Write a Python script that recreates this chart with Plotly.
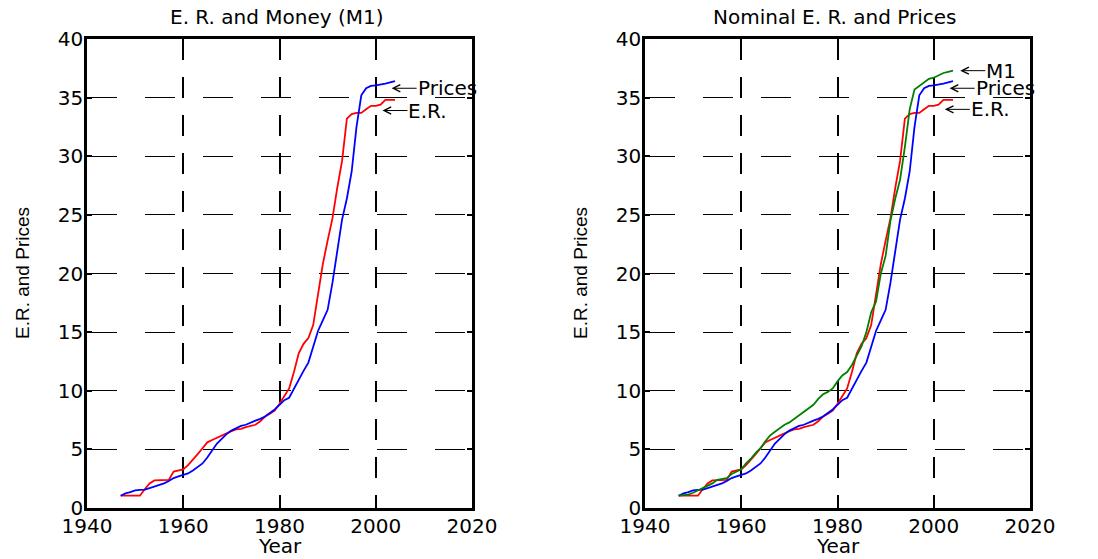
import plotly.graph_objects as go

years = [1947, 1948, 1949, 1950, 1951, 1952, 1953, 1954, 1955, 1956,
         1957, 1958, 1959, 1960, 1961, 1962, 1963, 1964, 1965, 1966,
         1967, 1968, 1969, 1970, 1971, 1972, 1973, 1974, 1975, 1976,
         1977, 1978, 1979, 1980, 1981, 1982, 1983, 1984, 1985, 1986,
         1987, 1988, 1989, 1990, 1991, 1992, 1993, 1994, 1995, 1996,
         1997, 1998, 1999, 2000, 2001, 2002, 2003, 2004]

exchange_rate = [1.05, 1.05, 1.05, 1.05, 1.05, 1.6, 2.1, 2.35, 2.35, 2.35,
                 2.4, 3.1, 3.2, 3.3, 3.65, 4.1, 4.6, 5.1, 5.6, 5.8,
                 6.0, 6.2, 6.35, 6.55, 6.7, 6.75, 6.9, 7.0, 7.1, 7.4,
                 7.8, 8.05, 8.3, 8.9, 9.6, 10.2, 11.6, 13.2, 14.0, 14.5,
                 15.6, 18.2, 20.8, 22.8, 24.7, 27.3, 29.6, 33.2, 33.6, 33.7,
                 33.7, 34.0, 34.3, 34.3, 34.4, 34.8, 34.8, 34.8]

prices = [1.05, 1.25, 1.35, 1.5, 1.55, 1.57, 1.7, 1.82, 1.95, 2.1,
          2.3, 2.55, 2.7, 2.8, 2.95, 3.2, 3.5, 3.8, 4.3, 4.9,
          5.5, 5.9, 6.3, 6.6, 6.8, 7.0, 7.1, 7.3, 7.45, 7.6,
          7.8, 8.1, 8.4, 8.8, 9.2, 9.4, 10.2, 11.0, 11.7, 12.4,
          13.8, 15.1, 16.0, 16.9, 19.2, 22.0, 24.6, 26.4, 28.7, 32.5,
          35.2, 35.8, 36.0, 36.05, 36.1, 36.2, 36.3, 36.4]

money_m1 = [1.05, 1.1, 1.15, 1.3, 1.5, 1.65, 1.85, 2.1, 2.4, 2.45,
            2.55, 2.9, 3.1, 3.3, 3.8, 4.2, 4.7, 5.1, 5.7, 6.2,
            6.5, 6.8, 7.1, 7.3, 7.6, 7.9, 8.2, 8.5, 8.8, 9.3,
            9.7, 9.9, 10.2, 10.8, 11.3, 11.6, 12.2, 13.0, 13.8, 15.0,
            16.7, 17.6, 20.0, 21.5, 24.5, 26.4, 28.0, 30.8, 34.0, 35.7,
            36.0, 36.3, 36.6, 36.7, 36.9, 37.1, 37.2, 37.3]

titles = ["E. R. and Money (M1)", "Nominal E. R. and Prices"]
x_title = "Year"
y_title = "E.R. and Prices"

W, H = 1098, 559
ML, MR, MT, MB = 87, 68, 39, 51
PW = W - ML - MR
PH = H - MT - MB

def px_x(p):
    return (p - ML) / PW

def px_y(p):
    return (H - MB - p) / PH

FONT = "DejaVu Sans"
RED, BLUE, GREEN = "#ff0000", "#0000ff", "#008000"

fig = go.Figure()
lw = 1.8
fig.add_trace(go.Scatter(x=years, y=exchange_rate, mode="lines", line=dict(color=RED, width=lw),
                         xaxis="x", yaxis="y", showlegend=False, name="E.R."))
fig.add_trace(go.Scatter(x=years, y=prices, mode="lines", line=dict(color=BLUE, width=lw),
                         xaxis="x", yaxis="y", showlegend=False, name="Prices"))
fig.add_trace(go.Scatter(x=years, y=exchange_rate, mode="lines", line=dict(color=RED, width=lw),
                         xaxis="x2", yaxis="y2", showlegend=False, name="E.R."))
fig.add_trace(go.Scatter(x=years, y=prices, mode="lines", line=dict(color=BLUE, width=lw),
                         xaxis="x2", yaxis="y2", showlegend=False, name="Prices"))
fig.add_trace(go.Scatter(x=years, y=money_m1, mode="lines", line=dict(color=GREEN, width=lw),
                         xaxis="x2", yaxis="y2", showlegend=False, name="M1"))

xcommon = dict(range=[1940, 2020], dtick=20, tick0=1940, showgrid=True, gridcolor="black",
               gridwidth=2, griddash="21px,17px", zeroline=False, showline=True,
               linecolor="black", linewidth=2.5, mirror="ticks", ticks="inside",
               ticklen=5, tickwidth=1.5, tickcolor="black", ticklabelstandoff=-2,
               tickfont=dict(family=FONT, size=20, color="black"), fixedrange=True)
ycommon = dict(range=[0, 40], dtick=5, tick0=0, showgrid=True, gridcolor="black",
               gridwidth=1.3, griddash="30px,28px", zeroline=False, showline=True,
               linecolor="black", linewidth=2.5, mirror="ticks", ticks="inside",
               ticklen=5, tickwidth=1.5, tickcolor="black", ticklabelstandoff=-3,
               tickfont=dict(family=FONT, size=20, color="black"), fixedrange=True)

xd1 = [px_x(87), px_x(472)]
xd2 = [px_x(645), px_x(1030)]

fig.update_layout(
    width=W, height=H,
    margin=dict(l=ML, r=MR, t=MT, b=MB, autoexpand=False),
    paper_bgcolor="white", plot_bgcolor="white",
    xaxis=dict(domain=xd1, anchor="y", **xcommon),
    yaxis=dict(domain=[0, 1], anchor="x", **ycommon),
    xaxis2=dict(domain=xd2, anchor="y2", **xcommon),
    yaxis2=dict(domain=[0, 1], anchor="x2", **ycommon),
)

ann = []
centers = [(87 + 472) / 2, (645 + 1030) / 2]
ylab_x = [22, 580]
for i in range(2):
    ann.append(dict(text=titles[i], xref="paper", yref="paper", x=px_x(centers[i] - 3), y=px_y(17),
                    xanchor="center", yanchor="middle", showarrow=False,
                    font=dict(family=FONT, size=20, color="black")))
    ann.append(dict(text=x_title, xref="paper", yref="paper", x=px_x(centers[i]), y=px_y(546),
                    xanchor="center", yanchor="middle", showarrow=False,
                    font=dict(family=FONT, size=20, color="black")))
    ann.append(dict(text=y_title, xref="paper", yref="paper", x=px_x(ylab_x[i]), y=px_y(273),
                    xanchor="center", yanchor="middle", showarrow=False, textangle=-90,
                    font=dict(family="Liberation Sans", size=19, color="black")))

labels = [
    ("x", "y", 2003.3, 35.8, "Prices"),
    ("x", "y", 2001.4, 33.9, "E.R."),
    ("x2", "y2", 2005.5, 37.3, "M1"),
    ("x2", "y2", 2003.3, 35.8, "Prices"),
    ("x2", "y2", 2002.3, 34.0, "E.R."),
]
for xr, yr, xv, yv, t in labels:
    ann.append(dict(text=t, xref=xr, yref=yr, x=xv, y=yv, ax=25, ay=0,
                    xanchor="left", yanchor="middle", showarrow=True, borderpad=0,
                    arrowhead=5, arrowsize=1.4, arrowwidth=1, arrowcolor="black",
                    font=dict(family=FONT, size=20, color="black")))

fig.update_layout(annotations=ann)
fig.write_html("out.html", config={"displayModeBar": False},
               post_script="document.body.style.margin='0';document.body.style.overflow='hidden';")
